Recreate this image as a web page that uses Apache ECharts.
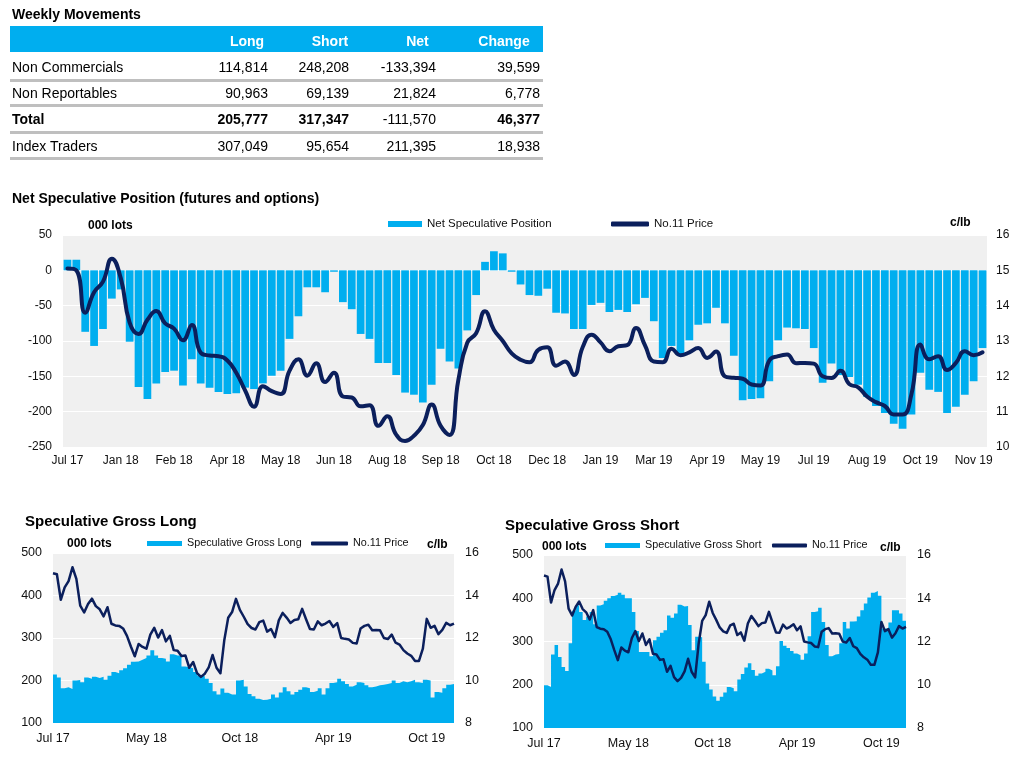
<!DOCTYPE html>
<html><head><meta charset="utf-8">
<script src="https://cdn.jsdelivr.net/npm/echarts@6/dist/echarts.min.js"></script>
<style>
html,body{margin:0;padding:0;background:#fff;}
body{width:1034px;height:760px;position:relative;overflow:hidden;font-family:'Liberation Sans',Arial,sans-serif;}
#chart{position:absolute;left:0;top:0;width:1034px;height:760px;}
#table{position:absolute;left:0;top:0;width:560px;height:175px;z-index:2;}
.t{position:absolute;white-space:nowrap;font-size:14px;color:#000;line-height:16px;}
.b{font-weight:bold;}
.sep{position:absolute;left:10px;width:533px;height:3px;background:#BFBFBF;}
</style></head>
<body>
<div id="chart"></div>
<div id="table"></div>
<script>
// ---------- Table data ----------
const tableTitle = 'Weekly Movements';
const tableColumns = ['Long', 'Short', 'Net', 'Change'];
const tableRowLabels = ['Non Commercials', 'Non Reportables', 'Total', 'Index Traders'];
const rowNonCommercials = ['114,814', '248,208', '-133,394', '39,599'];
const rowNonReportables = ['90,963', '69,139', '21,824', '6,778'];
const rowTotal = ['205,777', '317,347', '-111,570', '46,377'];
const rowIndexTraders = ['307,049', '95,654', '211,395', '18,938'];
const totalBold = [true, true, false, true];

// ---------- Chart data ----------
const mainTicks = ['Jul 17','Jan 18','Feb 18','Apr 18','May 18','Jun 18','Aug 18','Sep 18','Oct 18',
  'Dec 18','Jan 19','Mar 19','Apr 19','May 19','Jul 19','Aug 19','Oct 19','Nov 19'];
const bottomTicks = ['Jul 17','May 18','Oct 18','Apr 19','Oct 19'];

const netPosition = [15,15,-87,-107,-83,-40,-27,-101,-165,-182,
-160,-144,-142,-163,-126,-160,-166,-172,-175,-174,
-166,-168,-160,-149,-142,-97,-65,-24,-24,-31,
-2,-45,-55,-90,-97,-131,-131,-148,-173,-176,
-187,-162,-111,-129,-139,-85,-35,12,27,24,
-2,-20,-35,-36,-26,-60,-61,-83,-83,-49,
-46,-59,-56,-59,-48,-39,-72,-124,-107,-120,
-99,-77,-75,-53,-75,-121,-184,-182,-181,-157,
-99,-81,-82,-83,-110,-159,-132,-148,-151,-162,
-179,-192,-202,-217,-224,-204,-145,-169,-172,-202,
-193,-176,-157,-110];

const price = [15.05,15.0,13.8,14.38,14.68,15.33,14.78,13.52,13.2,13.6,
13.85,13.5,13.35,13.02,13.45,12.67,12.59,12.57,12.45,12.1,
11.6,11.14,11.72,11.58,11.5,12.16,12.48,12.02,12.37,11.84,
12.1,11.43,11.4,11.15,11.18,10.6,10.87,10.35,10.17,10.32,
10.62,11.2,10.6,10.34,11.9,12.95,13.22,13.84,13.32,13.0,
12.65,12.47,12.4,12.75,12.82,12.3,12.42,12.04,12.83,13.18,
12.96,12.71,12.85,12.88,13.37,12.88,12.42,12.4,12.78,12.6,
12.68,12.8,12.52,12.7,12.0,11.96,11.93,11.77,11.74,12.45,
12.57,12.62,12.37,12.38,12.36,12.0,11.95,12.16,11.78,11.69,
11.43,11.27,11.16,10.92,10.92,11.5,12.9,12.48,12.57,12.18,
12.38,12.71,12.6,12.68];

const grossLong = [214,207,182,184,180,200,201,196,207,204,
209,206,209,202,211,220,217,224,229,237,
244,245,249,253,259,271,259,253,251,245,
262,259,259,233,231,229,220,212,210,204,
194,175,167,181,171,167,167,200,202,186,
168,163,157,154,155,157,167,160,172,184,
175,167,173,178,184,182,173,176,182,167,
182,194,196,204,198,192,186,190,196,194,
189,184,186,189,190,192,194,200,194,198,
196,198,202,196,194,202,200,160,173,171,
182,190,192,204];

const grossShort = [199,195,270,292,264,241,232,296,371,384,
368,350,358,368,340,383,386,394,400,405,
408,413,408,400,400,368,324,276,276,276,
266,303,311,320,326,360,355,365,385,381,
382,338,280,311,310,253,203,189,173,163,
172,182,195,192,185,212,225,240,250,234,
221,226,230,237,233,222,243,301,290,285,
278,272,268,258,272,312,368,370,378,345,
292,266,270,271,296,345,330,346,347,358,
372,388,402,413,417,406,330,330,344,372,
372,365,348,314];

// ---------- Table drawing (HTML) ----------
(function () {
  const tb = document.getElementById('table');
  function add(html) { tb.insertAdjacentHTML('beforeend', html); }
  add('<div class="t b" style="left:12px;top:6px;">' + tableTitle + '</div>');
  add('<div style="position:absolute;left:10px;top:26px;width:533px;height:26px;background:#00AEEF;"></div>');
  const headCenters = [247, 330, 417.5, 504];
  tableColumns.forEach((c, i) => {
    add('<div class="t b" style="color:#fff;left:' + headCenters[i] + 'px;top:33px;transform:translateX(-50%);">' + c + '</div>');
  });
  const rows = [rowNonCommercials, rowNonReportables, rowTotal, rowIndexTraders];
  const rowCenters = [67, 93, 119.3, 146];
  const sepY = [78.5, 104, 131, 156.5];
  const colRight = [268, 349, 436, 540];
  rows.forEach((r, ri) => {
    const y = rowCenters[ri] - 8;
    const isTotal = ri === 2;
    add('<div class="t' + (isTotal ? ' b' : '') + '" style="left:12px;top:' + y + 'px;">' + tableRowLabels[ri] + '</div>');
    r.forEach((v, ci) => {
      const bold = isTotal && totalBold[ci];
      add('<div class="t' + (bold ? ' b' : '') + '" style="left:' + colRight[ci] + 'px;top:' + y + 'px;transform:translateX(-100%);">' + v + '</div>');
    });
    add('<div class="sep" style="top:' + sepY[ri] + 'px;"></div>');
  });
})();

// ---------- Charts ----------
const BLUE = '#00AEEF';
const NAVY = '#0B1F5C';
const BG = '#F0F0F0';
const TXT = '#111';
const FONT = "'Liberation Sans', Arial, sans-serif";

const mainCats = netPosition.map((_, i) => (i % 6 === 0 ? mainTicks[i / 6] : ''));
const bottomCats = price.map((_, i) => (i % 24 === 0 ? bottomTicks[i / 24] : ''));

const chart = echarts.init(document.getElementById('chart'), null, { renderer: 'canvas' });

function catAxis(gridIndex, data, boundaryGap, interval, fontSize, margin) {
  return {
    type: 'category', gridIndex, data, boundaryGap,
    axisLine: { show: false }, axisTick: { show: false }, splitLine: { show: false },
    axisLabel: { interval, fontSize, color: TXT, margin, fontFamily: FONT }
  };
}
function valAxis(gridIndex, position, min, max, interval, margin, split, fontSize) {
  return {
    type: 'value', gridIndex, position, min, max, interval,
    axisLine: { show: false }, axisTick: { show: false },
    splitLine: { show: split, lineStyle: { color: '#FFFFFF', width: 1 } },
    axisLabel: { fontSize, color: TXT, margin, fontFamily: FONT }
  };
}
function txt(x, y, text, font) {
  return { type: 'text', x, y, style: { text, font, fill: '#000', verticalAlign: 'middle', align: 'left' } };
}
function legend(left, top, name, icon, w, h, fs) {
  return {
    left, top, padding: 0, data: [name], icon, itemWidth: w, itemHeight: h,
    selectedMode: false, textStyle: { fontSize: fs, color: TXT, fontFamily: FONT }
  };
}
function stepArea(name, xi, yi, data) {
  return { name, type: 'line', xAxisIndex: xi, yAxisIndex: yi, data, step: 'end', symbol: 'none',
    itemStyle: { color: BLUE }, lineStyle: { width: 0, color: BLUE }, areaStyle: { color: BLUE, opacity: 1, origin: 'start' } };
}

const option = {
  animation: false,
  textStyle: { fontFamily: FONT },
  graphic: [
    txt(12, 199, 'Net Speculative Position (futures and options)', 'bold 14px ' + FONT),
    txt(88, 226, '000 lots', 'bold 12px ' + FONT),
    txt(950, 223, 'c/lb', 'bold 12px ' + FONT),
    txt(25, 522, 'Speculative Gross Long', 'bold 15px ' + FONT),
    txt(67, 544, '000 lots', 'bold 12px ' + FONT),
    txt(427, 545, 'c/lb', 'bold 12px ' + FONT),
    txt(505, 526, 'Speculative Gross Short', 'bold 15px ' + FONT),
    txt(542, 547, '000 lots', 'bold 12px ' + FONT),
    txt(880, 548, 'c/lb', 'bold 12px ' + FONT)
  ],
  legend: [
    legend(388, 218, 'Net Speculative Position', 'rect', 34, 6, 11.5),
    legend(611, 218, 'No.11 Price', 'roundRect', 38, 5, 11.5),
    legend(147, 538, 'Speculative Gross Long', 'rect', 35, 5, 10.8),
    legend(311, 538, 'No.11 Price', 'roundRect', 37, 4, 10.8),
    legend(605, 540, 'Speculative Gross Short', 'rect', 35, 5, 10.8),
    legend(772, 540, 'No.11 Price', 'roundRect', 35, 4, 10.8)
  ],
  grid: [
    { left: 63, top: 235, width: 924, height: 212, show: true, backgroundColor: BG, borderWidth: 0 },
    { left: 53, top: 553, width: 401, height: 170, show: true, backgroundColor: BG, borderWidth: 0 },
    { left: 544, top: 555, width: 362, height: 173, show: true, backgroundColor: BG, borderWidth: 0 }
  ],
  xAxis: [
    catAxis(0, mainCats, true, 5, 12, 8),
    catAxis(1, bottomCats, false, 23, 12.5, 9),
    catAxis(2, bottomCats, false, 23, 12.5, 9)
  ],
  yAxis: [
    valAxis(0, 'left', -250, 50, 50, 11, true, 12),
    valAxis(0, 'right', 10, 16, 1, 9, false, 12),
    valAxis(1, 'left', 100, 500, 100, 11, true, 12.5),
    valAxis(1, 'right', 8, 16, 2, 11, false, 12.5),
    valAxis(2, 'left', 100, 500, 100, 11, true, 12.5),
    valAxis(2, 'right', 8, 16, 2, 11, false, 12.5)
  ],
  series: [
    { name: 'Net Speculative Position', type: 'bar', xAxisIndex: 0, yAxisIndex: 0, data: netPosition,
      barCategoryGap: '13%', itemStyle: { color: BLUE } },
    { name: 'No.11 Price', type: 'line', xAxisIndex: 0, yAxisIndex: 1, data: price, smooth: true,
      symbol: 'none', itemStyle: { color: NAVY }, lineStyle: { color: NAVY, width: 4, cap: 'round', join: 'round' } },
    stepArea('Speculative Gross Long', 1, 2, grossLong),
    { name: 'No.11 Price', type: 'line', xAxisIndex: 1, yAxisIndex: 3, data: price,
      symbol: 'none', itemStyle: { color: NAVY }, lineStyle: { color: NAVY, width: 2.5, join: 'round' } },
    stepArea('Speculative Gross Short', 2, 4, grossShort),
    { name: 'No.11 Price', type: 'line', xAxisIndex: 2, yAxisIndex: 5, data: price,
      symbol: 'none', itemStyle: { color: NAVY }, lineStyle: { color: NAVY, width: 2.5, join: 'round' } }
  ]
};
chart.setOption(option);
</script>
</body></html>
